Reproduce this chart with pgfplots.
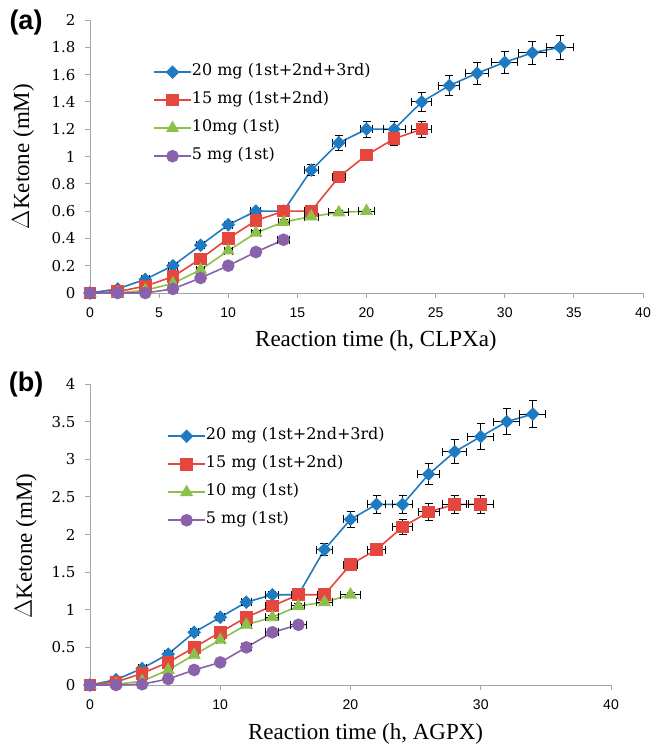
\documentclass[border=0pt]{standalone}
\usepackage{fontspec}
\setmainfont{Liberation Serif}
\newfontfamily\tickserif{DejaVu Serif}
\newfontfamily\arial{Liberation Sans}
\usepackage{pgfplots}
\pgfplotsset{compat=1.18}

\definecolor{blueC}{HTML}{1F7BC1}
\definecolor{redC}{HTML}{E5463E}
\definecolor{greenC}{HTML}{8DC04A}
\definecolor{purpleC}{HTML}{8A62AC}
\definecolor{axgray}{HTML}{A6A6A6}

\pgfplotsset{
  panel/.style={scale only axis, xmin=0, xmax=40, ymin=0,
    axis x line*=bottom, axis y line*=left,
    axis line style={draw=axgray, line width=0.9pt},
    tick style={draw=axgray, line width=0.9pt},
    tick align=outside, major tick length=5pt, clip=false,
    xticklabel style={font=\arial\fontsize{14}{14}\selectfont, yshift=-6pt},
    yticklabel style={font=\tickserif\fontsize{15}{15}\selectfont, xshift=-6pt},
    xlabel style={font=\fontsize{23}{23}\selectfont, anchor=base, yshift=-54pt},
    ylabel style={font=\fontsize{23}{23}\selectfont, anchor=center},
    legend cell align=left,
    legend style={draw=none, fill=none, anchor=north west, inner sep=0pt,
      font=\tickserif\fontsize{16}{16}\selectfont, row sep=13pt,
      nodes={inner sep=0pt, text height=11pt, text depth=4pt},
      /tikz/every odd column/.append style={column sep=0pt}},
    legend image code/.code={\draw[mark repeat=2, mark phase=2]
      plot coordinates {(0pt,0pt) (18.5pt,0pt) (37pt,0pt)};},
    every axis plot/.append style={line width=1.6pt}},
  eb/.style={error bars/x dir=both, error bars/x explicit,
    error bars/y dir=both, error bars/y explicit,
    error bars/error bar style={black, line width=1pt, solid},
    error bars/error mark options={rotate=90, black, mark size=4pt, line width=1pt}},
  sBlue/.style={blueC, mark=square*, mark size=4pt, mark options={rotate=45, fill=blueC, draw=blueC}, eb},
  sRed/.style={redC, mark=square*, mark size=5.5pt, mark options={fill=redC, draw=redC}, eb},
  sGreen/.style={greenC, mark=triangle*, mark size=6pt, mark options={fill=greenC, draw=greenC}, eb},
  sPurple/.style={purpleC, mark=*, mark size=5.5pt, mark options={fill=purpleC, draw=purpleC}, eb},
}

\begin{document}
\begin{tikzpicture}
\useasboundingbox (0pt,0pt) rectangle (653pt,744pt);

% ---------- (a) CLPXa
\begin{axis}[panel, at={(90pt,451pt)}, anchor=south west,
  width=553pt, height=273pt, ymax=2,
  xtick={0,5,10,15,20,25,30,35,40},
  xticklabels={0,5,10,15,20,25,30,35,40},
  ytick={0,0.2,0.4,0.6,0.8,1,1.2,1.4,1.6,1.8,2},
  yticklabels={0,0.2,0.4,0.6,0.8,1,1.2,1.4,1.6,1.8,2},
  xlabel={Reaction time (h, CLPXa)},
  xlabel style={at={(axis description cs:0.517,0)}},
  ylabel={$\Delta$Ketone (mM)},
  ylabel style={at={(axis description cs:-0.121,0.5)}},
  legend style={at={(axis description cs:0.114,0.837)}}]
\addplot[sBlue] table[x=x, y=y, x error=ex, y error=ey] {
x y ex ey
0 0 0.25 0.01
2 0.03 0.3 0.01
4 0.10 0.3 0.01
6 0.20 0.3 0.015
8 0.35 0.3 0.02
10 0.50 0.3 0.02
12 0.60 0.36 0.02
14 0.60 0.4 0.02
16 0.90 0.5 0.04
18 1.10 0.48 0.055
20 1.20 0.45 0.06
22 1.20 0.8 0.06
24 1.40 0.72 0.07
26 1.52 0.76 0.075
28 1.61 0.86 0.08
30 1.69 0.93 0.08
32 1.76 1.0 0.085
34 1.80 1.0 0.09
};
\addplot[sRed] table[x=x, y=y, x error=ex, y error=ey] {
x y ex ey
0 0 0.25 0.01
2 0.01 0.3 0.01
4 0.05 0.3 0.01
6 0.12 0.3 0.015
8 0.25 0.3 0.02
10 0.40 0.3 0.02
12 0.53 0.35 0.02
14 0.60 0.4 0.02
16 0.60 0.48 0.02
18 0.85 0.48 0.02
20 1.01 0.42 0.04
22 1.13 0.42 0.05
24 1.20 0.72 0.06
};
\addplot[sGreen] table[x=x, y=y, x error=ex, y error=ey] {
x y ex ey
0 0 0.25 0.01
2 0 0.3 0.01
4 0.02 0.3 0.01
6 0.07 0.3 0.01
8 0.17 0.3 0.015
10 0.31 0.3 0.015
12 0.44 0.35 0.015
14 0.52 0.4 0.015
16 0.56 0.5 0.015
18 0.59 0.72 0.015
20 0.60 0.58 0.015
};
\addplot[sPurple] table[x=x, y=y, x error=ex, y error=ey] {
x y ex ey
0 0 0.25 0.01
2 0 0.3 0.01
4 0 0.3 0.01
6 0.03 0.3 0.01
8 0.11 0.3 0.01
10 0.20 0.3 0.01
12 0.30 0.35 0.01
14 0.39 0.45 0.01
};
\legend{20 mg (1st+2nd+3rd), 15 mg (1st+2nd), 10mg (1st), 5 mg (1st)}
\end{axis}

% ---------- (b) AGPX
\begin{axis}[panel, at={(90pt,59pt)}, anchor=south west,
  width=521pt, height=301pt, ymax=4,
  xtick={0,10,20,30,40},
  xticklabels={0,10,20,30,40},
  ytick={0,0.5,1,1.5,2,2.5,3,3.5,4},
  yticklabels={0,0.5,1,1.5,2,2.5,3,3.5,4},
  xlabel={Reaction time (h, AGPX)},
  xlabel style={at={(axis description cs:0.529,0)}},
  ylabel={$\Delta$Ketone (mM)},
  ylabel style={at={(axis description cs:-0.123,0.462)}},
  legend style={at={(axis description cs:0.148,0.852)}}]
\addplot[sBlue] table[x=x, y=y, x error=ex, y error=ey] {
x y ex ey
0 0 0.3 0.02
2 0.07 0.3 0.02
4 0.22 0.3 0.02
6 0.41 0.3 0.03
8 0.70 0.3 0.03
10 0.90 0.3 0.03
12 1.10 0.4 0.04
14 1.20 0.5 0.04
16 1.20 0.5 0.04
18 1.80 0.58 0.08
20 2.20 0.57 0.11
22 2.40 0.68 0.12
24 2.40 0.74 0.12
26 2.80 0.83 0.14
28 3.10 0.9 0.16
30 3.30 1.0 0.17
32 3.50 1.0 0.17
34 3.60 1.0 0.18
};
\addplot[sRed] table[x=x, y=y, x error=ex, y error=ey] {
x y ex ey
0 0 0.3 0.02
2 0.04 0.3 0.02
4 0.155 0.3 0.02
6 0.30 0.3 0.03
8 0.50 0.3 0.03
10 0.70 0.3 0.03
12 0.90 0.4 0.04
14 1.05 0.5 0.04
16 1.20 0.5 0.04
18 1.20 0.5 0.04
20 1.60 0.5 0.07
22 1.80 0.68 0.08
24 2.10 0.75 0.10
26 2.30 0.8 0.11
28 2.40 0.9 0.12
30 2.40 0.95 0.12
};
\addplot[sGreen] table[x=x, y=y, x error=ex, y error=ey] {
x y ex ey
0 0 0.3 0.02
2 0.01 0.3 0.02
4 0.05 0.3 0.02
6 0.20 0.3 0.02
8 0.40 0.3 0.02
10 0.60 0.3 0.03
12 0.80 0.4 0.03
14 0.90 0.5 0.03
16 1.05 0.5 0.03
18 1.10 0.6 0.03
20 1.20 0.74 0.03
};
\addplot[sPurple] table[x=x, y=y, x error=ex, y error=ey] {
x y ex ey
0 0 0.3 0.02
2 0 0.3 0.02
4 0.01 0.3 0.02
6 0.08 0.3 0.02
8 0.20 0.3 0.02
10 0.30 0.3 0.02
12 0.50 0.4 0.02
14 0.70 0.5 0.02
16 0.80 0.6 0.02
};
\legend{20 mg (1st+2nd+3rd), 15 mg (1st+2nd), 10 mg (1st), 5 mg (1st)}
\end{axis}

\node[font=\arial\bfseries\fontsize{27}{27}\selectfont] at (26pt,721pt) {(a)};
\node[font=\arial\bfseries\fontsize{27}{27}\selectfont] at (26pt,359pt) {(b)};
\end{tikzpicture}
\end{document}
